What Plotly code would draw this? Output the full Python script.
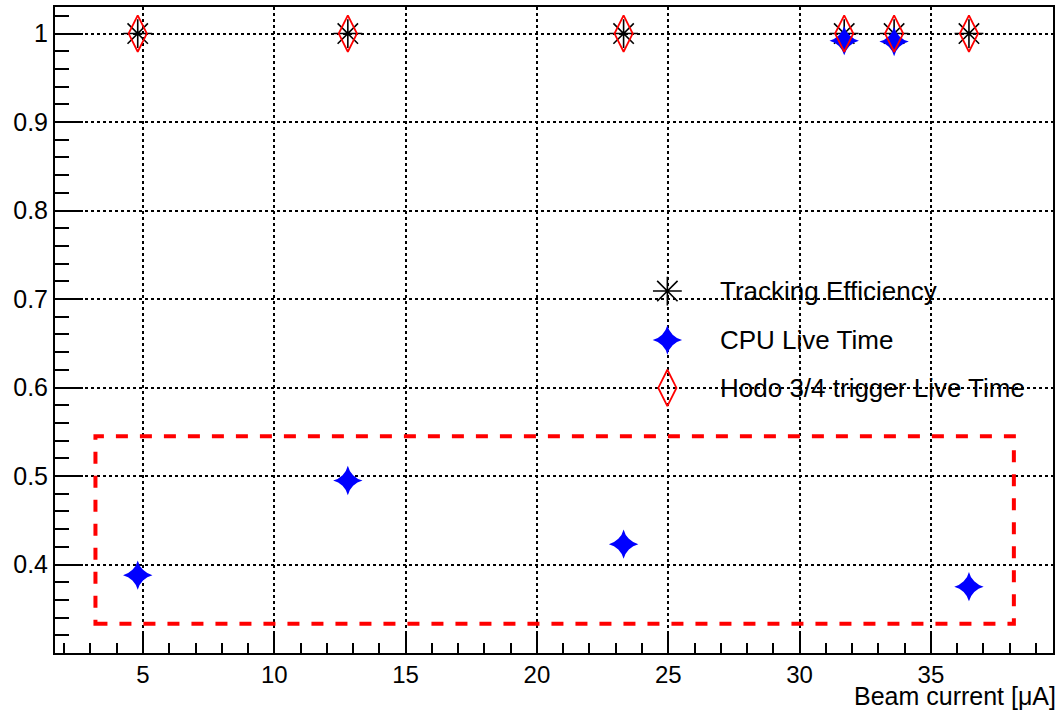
import plotly.graph_objects as go

# Data
beam_current = [4.8, 12.8, 23.3, 31.7, 33.6, 36.45]
tracking_eff = [1.0, 1.0, 1.0, 1.0, 1.0, 1.0]
cpu_live = [0.388, 0.495, 0.423, 0.992, 0.991, 0.375]
hodo_live = [1.0, 1.0, 1.0, 1.0, 1.0, 1.0]
series_names = ["Tracking Efficiency", "CPU Live Time", "Hodo 3/4 trigger Live Time"]

y_tickvals = [0.4, 0.5, 0.6, 0.7, 0.8, 0.9, 1.0]
y_ticktext = ["0.4", "0.5", "0.6", "0.7", "0.8", "0.9", "1"]
x_tickvals = [5, 10, 15, 20, 25, 30, 35]
x_ticktext = ["5", "10", "15", "20", "25", "30", "35"]

# Highlight box (data coordinates)
box_x = [3.19, 38.16]
box_y = [0.333, 0.545]

FONT = "Liberation Sans, Arial, Helvetica, sans-serif"

styles = [
    dict(symbol="asterisk-open", size=24, color="black",
         line=dict(color="black", width=1.6)),
    dict(symbol="star-diamond", size=21, color="#0000ff",
         line=dict(width=0)),
    dict(symbol="diamond-tall-open", size=26, color="#ff0000",
         line=dict(color="#ff0000", width=1.8)),
]
series_values = [tracking_eff, cpu_live, hodo_live]

fig = go.Figure()
for name, vals, st in zip(series_names, series_values, styles):
    fig.add_trace(go.Scatter(x=beam_current, y=vals, mode="markers", name=name,
                             marker=st, showlegend=False))

# Custom legend (markers on an overlay axis spanning the plot area in 0..1)
leg_marker_x = 0.6136
leg_text_x = 0.6645
leg_rows_y = [0.5603, 0.4845, 0.4103]
for name, st, ly in zip(series_names, styles, leg_rows_y):
    fig.add_trace(go.Scatter(x=[leg_marker_x], y=[ly], mode="markers",
                             marker=st, showlegend=False, hoverinfo="skip",
                             xaxis="x2", yaxis="y2"))
    fig.add_annotation(text=name, xref="paper", yref="paper",
                       x=leg_text_x, y=ly, xanchor="left", yanchor="middle",
                       showarrow=False, font=dict(size=26, family=FONT))

fig.add_shape(type="rect", xref="x", yref="y",
              x0=box_x[0], x1=box_x[1], y0=box_y[0], y1=box_y[1],
              line=dict(color="#ff0000", width=4, dash="dash"))

axis_common = dict(
    showline=True, linecolor="black", linewidth=2, mirror=True,
    ticks="inside", tickwidth=2, tickcolor="black",
    showgrid=True, gridcolor="black", griddash="dot", gridwidth=1.5,
    zeroline=False,
)

fig.update_layout(
    width=1060, height=711,
    margin=dict(l=55, r=5, t=7, b=58),
    paper_bgcolor="white", plot_bgcolor="white",
    font=dict(family=FONT, size=26, color="black"),
    showlegend=False,
    xaxis=dict(range=[1.65, 39.65], tickvals=x_tickvals, ticktext=x_ticktext,
               ticklen=19, tickfont=dict(size=24), ticklabelstandoff=-1,
               minor=dict(dtick=1, tick0=0, ticks="inside", ticklen=10,
                          tickwidth=2, tickcolor="black", showgrid=False),
               **axis_common),
    yaxis=dict(range=[0.3, 1.03], tickvals=y_tickvals, ticktext=y_ticktext,
               ticklen=28, tickfont=dict(size=25),
               minor=dict(dtick=0.02, tick0=0, ticks="inside", ticklen=14,
                          tickwidth=2, tickcolor="black", showgrid=False),
               **axis_common),
    xaxis2=dict(overlaying="x", range=[0, 1], visible=False, domain=[0, 1]),
    yaxis2=dict(overlaying="y", range=[0, 1], visible=False, domain=[0, 1]),
)

fig.add_annotation(text="Beam current [\u03bcA]", xref="paper", yref="paper",
                   x=1.004, y=-0.0892, xanchor="right", yanchor="bottom",
                   showarrow=False, borderpad=0, font=dict(size=25, family=FONT))

fig.write_html("out.html")
